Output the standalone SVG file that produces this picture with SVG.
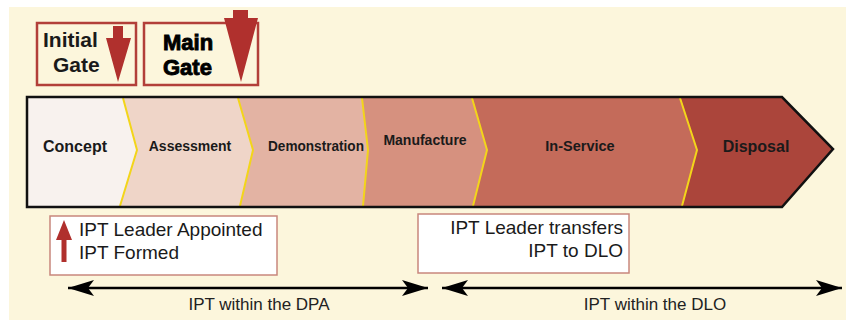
<svg xmlns="http://www.w3.org/2000/svg" width="846" height="320" viewBox="0 0 846 320">
<style>
.seg{stroke:none}
.div{fill:none;stroke:#f3d51a;stroke-width:2}
.lbl{font-family:"Liberation Sans",Arial,sans-serif;font-weight:bold;fill:#1a1a1a;text-anchor:middle}
.gate{fill:none;stroke:#b23f39;stroke-width:2.5}
.gtxt{font-family:"Liberation Sans",Arial,sans-serif;font-weight:bold;font-size:21px;fill:#1a1a1a}
.mtxt{font-family:"Liberation Sans",Arial,sans-serif;font-weight:bold;font-size:22px;fill:#000;stroke:#000;stroke-width:0.9}
.red{fill:#b0302d}
.box{fill:#ffffff;stroke:#c8877c;stroke-width:1.5}
.btxt{font-family:"Liberation Sans",Arial,sans-serif;font-size:19px;fill:#1a1a1a}
.span{fill:none;stroke:#000;stroke-width:2.3}
.stxt{font-family:"Liberation Sans",Arial,sans-serif;font-size:17px;fill:#222;text-anchor:middle}
</style>
<defs>
<marker id="ah" markerUnits="userSpaceOnUse" markerWidth="30" markerHeight="18" refX="26" refY="8" orient="auto-start-reverse">
<path d="M0,0 L26,8 L0,16 L6,8 Z" fill="#000"/>
</marker>
</defs>
<rect x="0" y="0" width="846" height="320" fill="#ffffff"/>
<rect x="9" y="7" width="837" height="313" fill="#fcf6dc"/>

<g id="band">
<polygon class="seg" fill="#f8f2ee" points="27,97 123,97 137,150 120,207 27,207"/>
<polygon class="seg" fill="#efd5c8" points="123,97 238,97 253,150 240,207 120,207 137,150"/>
<polygon class="seg" fill="#e3b3a3" points="238,97 362,97 368,150 363,207 240,207 253,150"/>
<polygon class="seg" fill="#d6917f" points="362,97 472,97 487,150 473,207 363,207 368,150"/>
<polygon class="seg" fill="#c46b5a" points="472,97 680,97 697,150 682,207 473,207 487,150"/>
<polygon class="seg" fill="#ab453b" points="680,97 782,97 833,149 782,207 682,207 697,150"/>
<polyline class="div" points="123,98 137,150 120,206"/>
<polyline class="div" points="238,98 253,150 240,206"/>
<polyline class="div" points="362,98 368,150 363,206"/>
<polyline class="div" points="472,98 487,150 473,206"/>
<polyline class="div" points="680,98 697,150 682,206"/>
<path d="M27,97 L782,97 L833,149 L782,207 L27,207 Z" fill="none" stroke="#111" stroke-width="2.5" stroke-linejoin="miter"/>
</g>

<g id="concept"><text class="lbl" x="75" y="152" font-size="16">Concept</text></g>
<g id="assessment"><text class="lbl" x="190" y="151" font-size="14">Assessment</text></g>
<g id="demonstration"><text class="lbl" x="316" y="151" font-size="14" textLength="96" lengthAdjust="spacingAndGlyphs">Demonstration</text></g>
<g id="manufacture"><text class="lbl" x="425" y="145" font-size="14">Manufacture</text></g>
<g id="in-service"><text class="lbl" x="580" y="151" font-size="14.5">In-Service</text></g>
<g id="disposal"><text class="lbl" x="756" y="152" font-size="16">Disposal</text></g>

<g id="initial-gate">
<rect class="gate" x="37" y="23" width="99" height="62"/>
<text class="gtxt" x="43" y="47">Initial</text>
<text class="gtxt" x="53" y="72">Gate</text>
<polygon class="red" points="113,26 123,26 123,38 131,38 118,82 106,38 113,38"/>
</g>

<g id="main-gate">
<rect class="gate" x="144" y="23" width="114" height="62"/>
<text class="mtxt" x="163" y="50">Main</text>
<text class="mtxt" x="163" y="75">Gate</text>
<polygon class="red" points="233,10 248,10 248,18 258,18 241,82 224,18 233,18"/>
</g>

<g id="ipt-formed">
<rect class="box" x="50" y="216" width="227" height="59"/>
<polygon class="red" points="64,220 72,240 66.5,240 66.5,262 61.5,262 61.5,240 56,240"/>
<text class="btxt" x="79" y="236">IPT Leader Appointed</text>
<text class="btxt" x="79" y="259">IPT Formed</text>
</g>

<g id="ipt-transfer">
<rect class="box" x="418" y="214" width="211" height="59"/>
<text class="btxt" x="623" y="234" text-anchor="end">IPT Leader transfers</text>
<text class="btxt" x="623" y="257" text-anchor="end">IPT to DLO</text>
</g>

<g id="connectors">
<line class="span" x1="68" y1="288" x2="428" y2="288" marker-start="url(#ah)" marker-end="url(#ah)"/>
<line class="span" x1="442" y1="288" x2="842" y2="288" marker-start="url(#ah)" marker-end="url(#ah)"/>
</g>

<g id="span-labels">
<text class="stxt" x="259" y="310">IPT within the DPA</text>
<text class="stxt" x="655" y="310">IPT within the DLO</text>
</g>
</svg>
